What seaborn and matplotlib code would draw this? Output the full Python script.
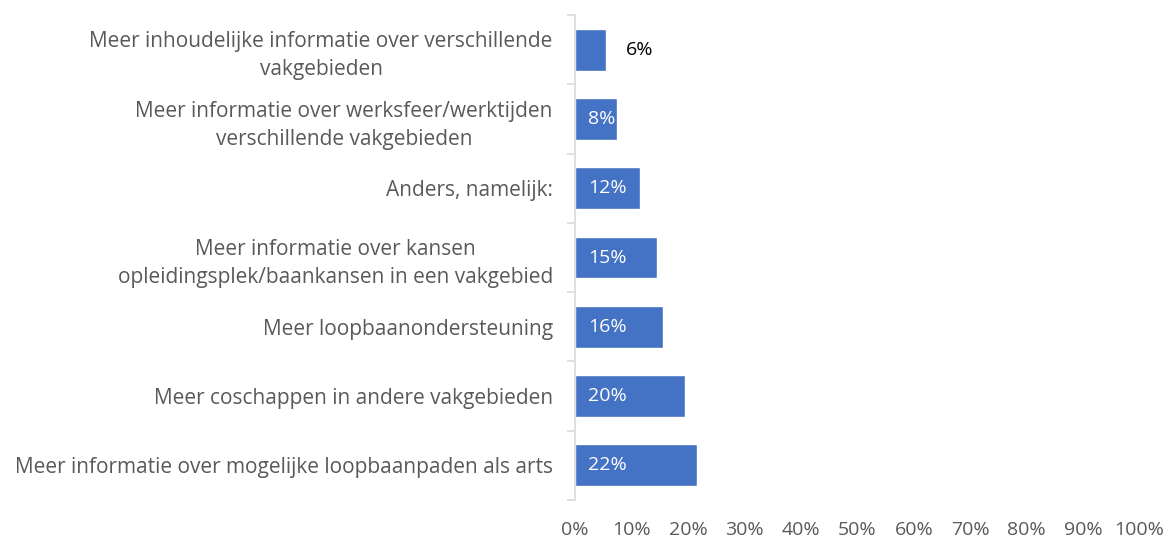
import pandas as pd
import matplotlib.pyplot as plt
import seaborn as sns

categories = [
    "Meer inhoudelijke informatie over verschillende\nvakgebieden",
    "Meer informatie over werksfeer/werktijden\nverschillende vakgebieden",
    "Anders, namelijk:",
    "Meer informatie over kansen\nopleidingsplek/baankansen in een vakgebied",
    "Meer loopbaanondersteuning",
    "Meer coschappen in andere vakgebieden",
    "Meer informatie over mogelijke loopbaanpaden als arts",
]
values = [5.5, 7.5, 11.5, 14.5, 15.5, 19.5, 21.6]
value_labels = ["6%", "8%", "12%", "15%", "16%", "20%", "22%"]
x_ticks = list(range(0, 101, 10))

df = pd.DataFrame({"cat": categories, "val": values})

sns.set_theme(style="white")
plt.rcParams['font.family'] = ['Open Sans', 'DejaVu Sans']

fig = plt.figure(figsize=(11.7, 5.41), dpi=100)
ax = fig.add_axes([0.4915, 0.076, 0.4825, 0.896])

sns.barplot(data=df, x="val", y="cat", orient="h", color="#4472C4",
            saturation=1, width=0.6, ax=ax)

ax.set_xlim(0, 100)
ax.set_ylim(len(categories) - 0.5, -0.5)
ax.set_xticks(x_ticks)
ax.set_xticklabels([f"{t}%" for t in x_ticks], color="#595959", fontsize=14)
ax.tick_params(axis="x", length=0, pad=15)
ax.set_yticks(range(len(categories)))
ax.set_yticklabels(categories, color="#595959", fontsize=15,
                   multialignment="center", linespacing=1.45)
ax.tick_params(axis="y", which="major", length=0, pad=16)
ax.set_yticks([i - 0.5 for i in range(len(categories) + 1)], minor=True)
ax.tick_params(axis="y", which="minor", length=6, color="#d9d9d9", width=1.2,
               left=True)
ax.set_xlabel("")
ax.set_ylabel("")

for s in ["top", "right", "bottom"]:
    ax.spines[s].set_visible(False)
ax.spines["left"].set_color("#d9d9d9")
ax.spines["left"].set_linewidth(1.2)

for i, (v, lab) in enumerate(zip(values, value_labels)):
    if i == 0:
        ax.text(v + 3.5, i, lab, va="center", ha="left", color="black",
                fontsize=14)
    else:
        ax.text(2.3, i, lab, va="center", ha="left", color="white",
                fontsize=14)

fig.savefig("out.png", dpi=100)
